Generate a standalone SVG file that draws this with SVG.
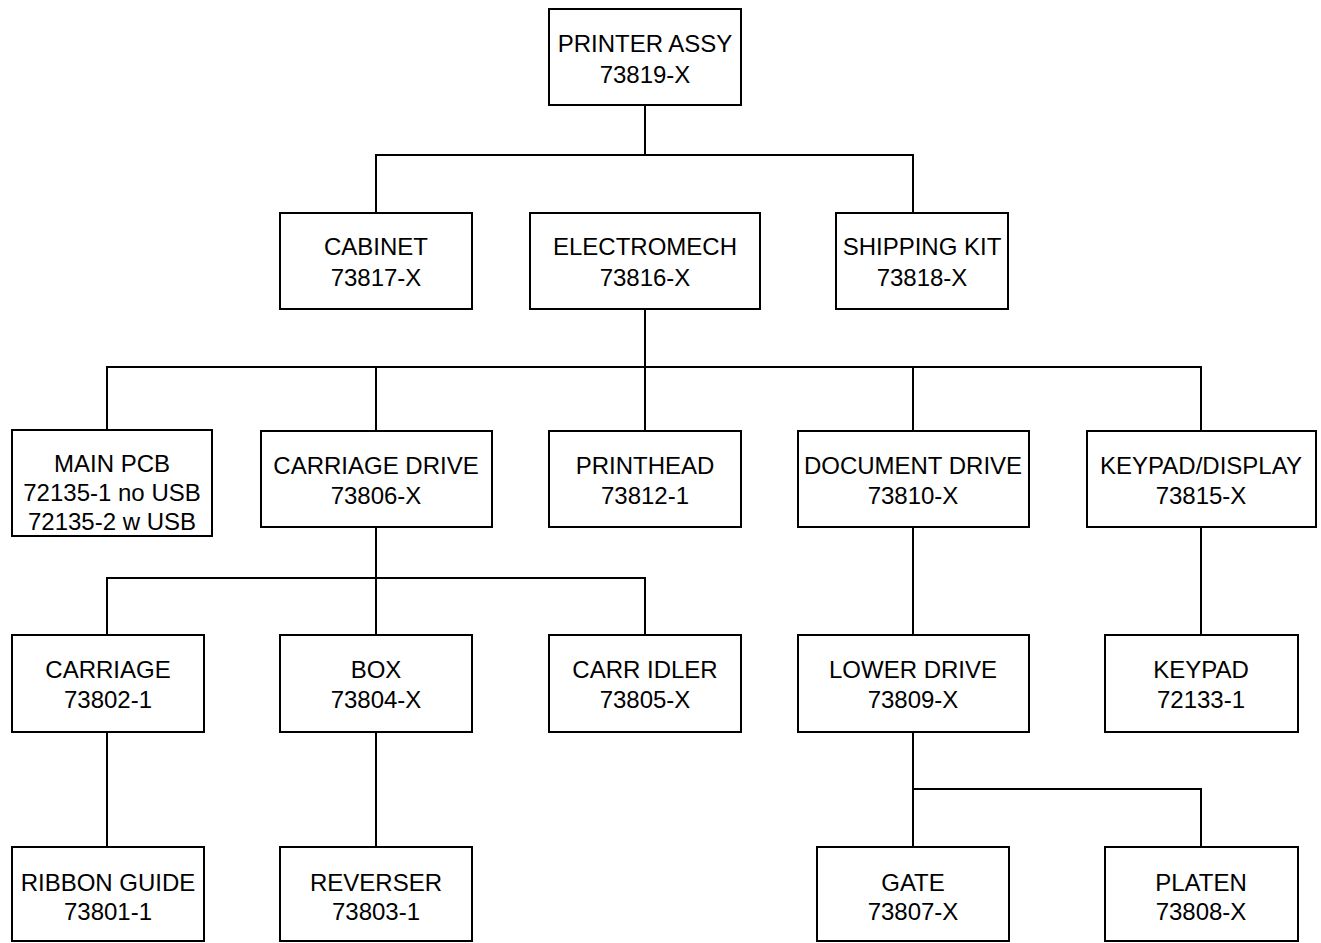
<svg xmlns="http://www.w3.org/2000/svg" width="1321" height="943" viewBox="0 0 1321 943">
<style>
.box{fill:#fff;stroke:#000;stroke-width:2}
.ln{fill:none;stroke:#000;stroke-width:2}
text{font-family:"Liberation Sans",Arial,sans-serif;font-size:24px;fill:#000;text-anchor:middle}
</style>
<rect width="1321" height="943" fill="#fff"/>
<g id="connectors">
<path class="ln" d="M645 105V155M376 213V155H913V213"/>
<path class="ln" d="M645 309V367M107 431V367H1201V431M376 367V431M645 367V431M913 367V431"/>
<path class="ln" d="M376 527V578M107 635V578H645V635M376 578V635"/>
<path class="ln" d="M913 527V635M1201 527V635"/>
<path class="ln" d="M107 732V847M376 732V847"/>
<path class="ln" d="M913 732V847M913 789H1201V847"/>
</g>
<g id="printer-assy"><rect class="box" x="549" y="9" width="192" height="96"/><text x="645" y="52">PRINTER ASSY</text><text x="645" y="83">73819-X</text></g>
<g id="cabinet"><rect class="box" x="280" y="213" width="192" height="96"/><text x="376" y="255">CABINET</text><text x="376" y="286">73817-X</text></g>
<g id="electromech"><rect class="box" x="530" y="213" width="230" height="96"/><text x="645" y="255">ELECTROMECH</text><text x="645" y="286">73816-X</text></g>
<g id="shipping-kit"><rect class="box" x="836" y="213" width="172" height="96"/><text x="922" y="255">SHIPPING KIT</text><text x="922" y="286">73818-X</text></g>
<g id="main-pcb"><rect class="box" x="12" y="430" width="200" height="106"/><text x="112" y="472">MAIN PCB</text><text x="112" y="501">72135-1 no USB</text><text x="112" y="530">72135-2 w USB</text></g>
<g id="carriage-drive"><rect class="box" x="261" y="431" width="231" height="96"/><text x="376" y="474">CARRIAGE DRIVE</text><text x="376" y="504">73806-X</text></g>
<g id="printhead"><rect class="box" x="549" y="431" width="192" height="96"/><text x="645" y="474">PRINTHEAD</text><text x="645" y="504">73812-1</text></g>
<g id="document-drive"><rect class="box" x="798" y="431" width="231" height="96"/><text x="913" y="474">DOCUMENT DRIVE</text><text x="913" y="504">73810-X</text></g>
<g id="keypad-display"><rect class="box" x="1087" y="431" width="229" height="96"/><text x="1201" y="474">KEYPAD/DISPLAY</text><text x="1201" y="504">73815-X</text></g>
<g id="carriage"><rect class="box" x="12" y="635" width="192" height="97"/><text x="108" y="678">CARRIAGE</text><text x="108" y="708">73802-1</text></g>
<g id="box"><rect class="box" x="280" y="635" width="192" height="97"/><text x="376" y="678">BOX</text><text x="376" y="708">73804-X</text></g>
<g id="carr-idler"><rect class="box" x="549" y="635" width="192" height="97"/><text x="645" y="678">CARR IDLER</text><text x="645" y="708">73805-X</text></g>
<g id="lower-drive"><rect class="box" x="798" y="635" width="231" height="97"/><text x="913" y="678">LOWER DRIVE</text><text x="913" y="708">73809-X</text></g>
<g id="keypad"><rect class="box" x="1105" y="635" width="193" height="97"/><text x="1201" y="678">KEYPAD</text><text x="1201" y="708">72133-1</text></g>
<g id="ribbon-guide"><rect class="box" x="12" y="847" width="192" height="94"/><text x="108" y="891">RIBBON GUIDE</text><text x="108" y="920">73801-1</text></g>
<g id="reverser"><rect class="box" x="280" y="847" width="192" height="94"/><text x="376" y="891">REVERSER</text><text x="376" y="920">73803-1</text></g>
<g id="gate"><rect class="box" x="817" y="847" width="192" height="94"/><text x="913" y="891">GATE</text><text x="913" y="920">73807-X</text></g>
<g id="platen"><rect class="box" x="1105" y="847" width="193" height="94"/><text x="1201" y="891">PLATEN</text><text x="1201" y="920">73808-X</text></g>
</svg>
